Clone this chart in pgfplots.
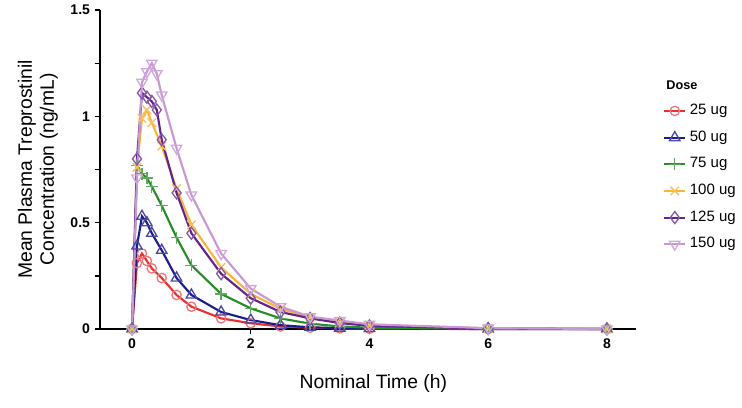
\documentclass[border=0pt]{standalone}
\usepackage{fontspec}
\setmainfont{Liberation Sans}
\usepackage{pgfplots}
\pgfplotsset{compat=1.18}
\definecolor{cRed}{RGB}{232,48,48}
\definecolor{cBlue}{RGB}{28,28,140}
\definecolor{cGreen}{RGB}{40,140,40}
\definecolor{cOrange}{RGB}{250,180,60}
\definecolor{cPurple}{RGB}{96,36,140}
\definecolor{cLav}{RGB}{200,152,212}
\begin{document}
\begin{tikzpicture}
\begin{axis}[
  scale only axis,
  width=402pt, height=239.25pt,
  xmin=-0.54, xmax=8.49, ymin=0, ymax=1.5,
  axis x line*=bottom, axis y line*=left,
  axis line style={line width=1.2pt, black},
  tick align=outside,
  major tick length=4pt, minor tick length=4pt,
  tick style={line width=1pt, black},
  xtick={0,2,4,6,8},
  ytick={0,0.5,1,1.5},
  minor ytick={0.25,0.75,1.25},
  /pgf/number format/assume math mode=true,
  ticklabel style={font=\bfseries\fontsize{10.5}{12}\selectfont},
  xlabel={Nominal Time (h)},
  ylabel={Mean Plasma Treprostinil\\Concentration (ng/mL)},
  label style={font=\fontsize{14.5}{16.5}\selectfont, align=center},
  xlabel style={at={(axis description cs:0.51,-0.171)}, anchor=center},
  ylabel style={at={(axis description cs:-0.1157,0.5)}, anchor=center},
  clip=false,
  every axis plot/.append style={line width=1.6pt},
  legend style={at={(axis description cs:1.05,0.7085)}, anchor=north west,
    draw=none, fill=none, inner sep=0pt, row sep=8.5pt,
    font=\fontsize{11.25}{13}\selectfont,
    nodes={inner ysep=1pt, inner xsep=2.5pt, text height=7.5pt, text depth=2pt}},
  legend cell align=left,
  legend image code/.code={\draw[mark repeat=2,mark phase=2] plot coordinates {(0pt,0pt)(8pt,0pt)(16pt,0pt)};},
]
\addplot[cRed, mark=o, mark size=3.5pt, mark options={solid, cRed!65!white, line width=1pt}] coordinates {
(0,0) (0.083,0.31) (0.167,0.355) (0.25,0.32) (0.333,0.285) (0.5,0.24) (0.75,0.16) (1,0.105) (1.5,0.05) (2,0.027) (2.5,0.012) (3,0.006) (3.5,0.003) (4,0.001) (6,0) (8,0)};
\addlegendentry{25 ug}
\addplot[cBlue, mark=triangle, mark size=4.5pt, mark options={solid, cBlue!80!white, line width=1pt}] coordinates {
(0,0) (0.083,0.39) (0.167,0.53) (0.25,0.50) (0.333,0.45) (0.5,0.37) (0.75,0.24) (1,0.16) (1.5,0.08) (2,0.042) (2.5,0.018) (3,0.008) (3.5,0.004) (4,0.002) (6,0) (8,0)};
\addlegendentry{50 ug}
\addplot[cGreen, mark=+, mark size=4.5pt, mark options={solid, cGreen!75!white, line width=1pt}] coordinates {
(0,0) (0.083,0.77) (0.167,0.73) (0.25,0.71) (0.333,0.67) (0.5,0.58) (0.75,0.43) (1,0.30) (1.5,0.165) (2,0.097) (2.5,0.05) (3,0.025) (3.5,0.012) (4,0.006) (6,0.001) (8,0)};
\addlegendentry{75 ug}
\addplot[cOrange, mark=x, mark size=4.5pt, mark options={solid, cOrange!85!white, line width=1pt}] coordinates {
(0,0) (0.083,0.76) (0.167,0.99) (0.25,1.03) (0.333,0.97) (0.5,0.86) (0.75,0.66) (1,0.49) (1.5,0.29) (2,0.165) (2.5,0.095) (3,0.055) (3.5,0.032) (4,0.018) (6,0.003) (8,0)};
\addlegendentry{100 ug}
\addplot[cPurple, mark=diamond, mark size=4.5pt, mark options={solid, cPurple!75!white, line width=1pt}] coordinates {
(0,0) (0.083,0.80) (0.167,1.11) (0.25,1.09) (0.333,1.07) (0.417,1.03) (0.5,0.89) (0.75,0.64) (1,0.45) (1.5,0.26) (2,0.145) (2.5,0.08) (3,0.05) (3.5,0.028) (4,0.015) (6,0.002) (8,0)};
\addlegendentry{125 ug}
\addplot[cLav, mark=triangle, mark size=4.5pt, mark options={solid, rotate=180, cLav!85!white, line width=1pt}] coordinates {
(0,0) (0.083,0.71) (0.167,1.16) (0.25,1.21) (0.333,1.25) (0.417,1.20) (0.5,1.10) (0.75,0.85) (1,0.63) (1.5,0.355) (2,0.19) (2.5,0.105) (3,0.058) (3.5,0.04) (4,0.022) (6,0.004) (8,0)};
\addlegendentry{150 ug}
\node[anchor=west, font=\bfseries\fontsize{9.5}{11}\selectfont] at (axis description cs:1.048,0.765) {Dose};
\end{axis}
\pgfresetboundingbox
\path (-75pt,-58.5pt) rectangle (481.5pt,246.75pt);
\end{tikzpicture}
\end{document}
